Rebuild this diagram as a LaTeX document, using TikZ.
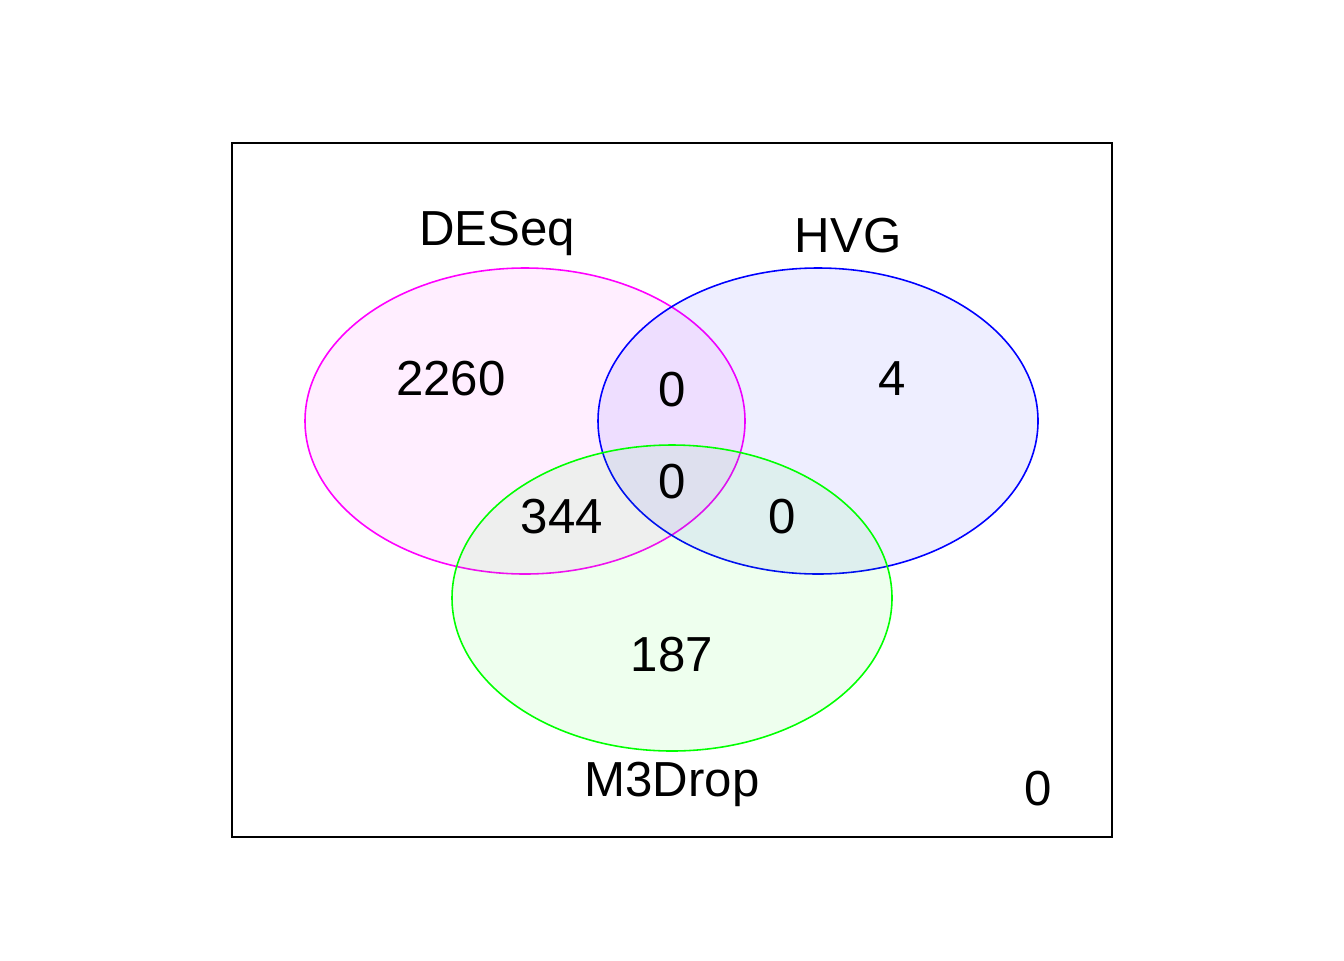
\documentclass[tikz,border=0pt]{standalone}
\usepackage{fontspec}
\setmainfont{Liberation Sans}
\usepackage{tikz}
\usetikzlibrary{positioning}

\definecolor{setpink}{RGB}{255,0,255}
\definecolor{setblue}{RGB}{0,0,255}
\definecolor{setgreen}{RGB}{0,255,0}

\begin{document}
\begin{tikzpicture}[x=0.02cm, y=-0.02cm,
  setcircle/.style={line width=0.9pt, fill opacity=0.065},
  lbl/.style={draw=none, font=\fontsize{28}{32}\selectfont, inner sep=0pt}]

\useasboundingbox (0,0) rectangle (1344,960);

% Outer frame
\draw[line width=0.9pt] (232,143) rectangle (1112,837);

% The three sets
\draw[setcircle, draw=setpink, fill=setpink] (525,421) ellipse (220 and 153);
\draw[setcircle, draw=setblue, fill=setblue] (818,421) ellipse (220 and 153);
\draw[setcircle, draw=setgreen, fill=setgreen] (672,598) ellipse (220 and 153);

% Set names
\node[lbl] (deseq) at (497,233) {DESeq};
\node[lbl] (hvg) at (848,236) {HVG};
\node[lbl] (mdrop) at (672,784) {M3Drop};

% Counts
\node[lbl] (only1) at (451,379) {2260};
\node[lbl] (only2) at (892,379) {4};
\node[lbl] (only3) at (672,655) {187};
\node[lbl] (both12) at (672,390) {0};
\node[lbl] (all) at (672,482) {0};
\node[lbl] (both13) at (562,517) {344};
\node[lbl] (both23) at (782,517) {0};
\node[lbl] (none) at (1038,789) {0};

\end{tikzpicture}
\end{document}
